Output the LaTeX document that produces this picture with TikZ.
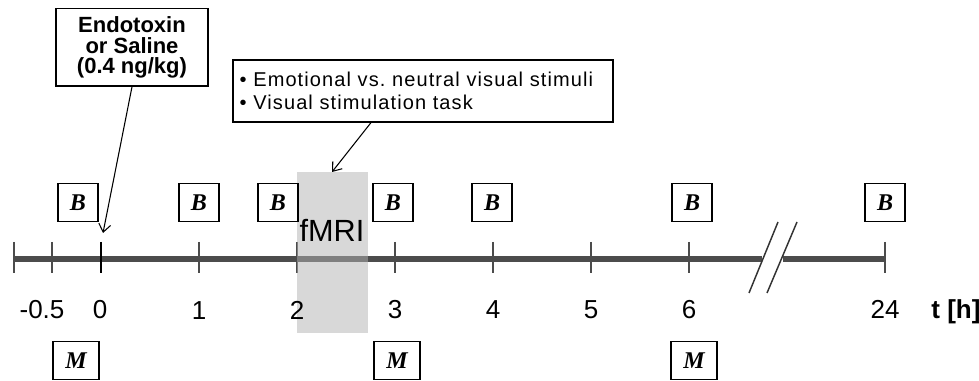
\documentclass[tikz,border=0pt]{standalone}
\usepackage{fontspec}
\setmainfont{Liberation Sans}
\newfontfamily\letterfont{Liberation Serif}
\newfontfamily\spacedfont[LetterSpace=5.5]{Liberation Sans}
\usetikzlibrary{arrows.meta}

\tikzset{
  markbox/.style={draw, line width=0.9pt, inner sep=0pt, minimum width=30pt, minimum height=29pt,
    font=\letterfont\itshape\bfseries\fontsize{18}{18}\selectfont},
  mbox/.style={markbox, minimum width=34.5pt},
  ticklabel/.style={anchor=base, font=\fontsize{19.5}{19.5}\selectfont},
  axisline/.style={line width=4pt, black!70},
  tickline/.style={line width=1.3pt, black!70},
  pointer/.style={line width=0.8pt, -{Straight Barb[length=6pt, width=9pt]}}
}

\begin{document}
\begin{tikzpicture}[x=0.75pt, y=-0.75pt]
		\useasboundingbox (0,0) rectangle (979,381);

		% Define the axis
		\coordinate (start) at (14,259);
		\coordinate (breakL) at (762,259);
		\coordinate (breakR) at (783,259);
		\coordinate (end) at (885,259);
		\draw[axisline] (start) -- (breakL);
		\draw[axisline] (breakR) -- (end);

		% Define the ticks
		\foreach \x in {14, 52, 199, 297, 395, 493, 591, 689, 885}
			\draw[tickline] (\x,242) -- (\x,273);
		\draw[line width=1.8pt, black] (101,242) -- (101,273);

		% Break marks
		\draw[line width=1.1pt, black!80] (749,293) -- (778,222);
		\draw[line width=1.1pt, black!80] (767,293) -- (797,222);

		% fMRI block
		\fill[black!30, fill opacity=0.5] (297,172) rectangle (368,333);
		\node[anchor=base, font=\fontsize{23}{23}\selectfont] (fmri) at (332,242) {fMRI};
		\coordinate (scan) at (332,172);

		% Tick labels
		\node[ticklabel] (lm05) at (42,319) {-0.5};
		\node[ticklabel] (l0) at (100,319) {0};
		\node[ticklabel] (l1) at (199,320) {1};
		\node[ticklabel] (l2) at (297,320) {2};
		\node[ticklabel] (l3) at (395,319) {3};
		\node[ticklabel] (l4) at (493,319) {4};
		\node[ticklabel] (l5) at (591,319) {5};
		\node[ticklabel] (l6) at (689,319) {6};
		\node[ticklabel] (l24) at (885,318) {24};
		\node[ticklabel, font=\bfseries\fontsize{19.5}{19.5}\selectfont] (unit) at (956,318) {t [h]};

		% Blood samples
		\foreach \x [count=\i] in {78, 199, 278, 393, 492, 692, 885}
			\node[markbox] (b\i) at (\x,202.5) {B};

		% Mood ratings
		\foreach \x [count=\i] in {76, 397, 694}
			\node[mbox] (m\i) at (\x,360.5) {M};

		% Injection
		\node[draw, line width=1pt, align=center, minimum width=114pt, minimum height=58pt, inner sep=0pt,
			font=\bfseries\fontsize{16.5}{15.6}\selectfont] (endo) at (132,47.5) {Endotoxin\\or Saline\\(0.4 ng/kg)};
		\coordinate (inj) at (103,233);
		\draw[pointer] (endo.south) -- (inj);

		% Task description
		\node[draw, line width=0.9pt, align=left, text width=275pt, inner xsep=5pt, inner ysep=0pt,
			minimum height=46.5pt, font=\spacedfont\frenchspacing\fontsize{15}{17.25}\selectfont] (stim) at (423,91)
			{\textbullet\ Emotional vs. neutral visual stimuli\\\textbullet\ Visual stimulation task};
		\draw[pointer] ([xshift=-39pt]stim.south) -- (scan);
	\end{tikzpicture}
\end{document}
